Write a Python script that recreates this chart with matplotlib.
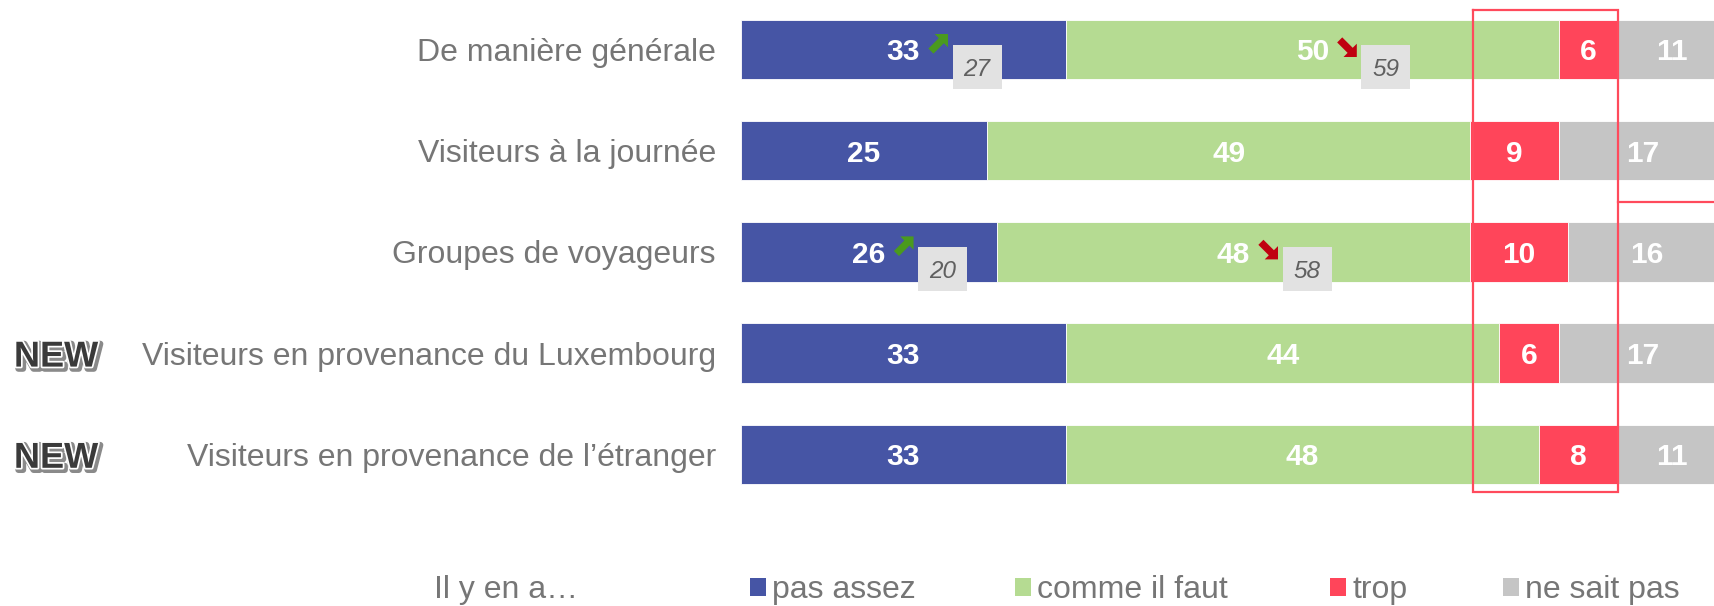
import matplotlib
matplotlib.use("Agg")
import matplotlib.pyplot as plt
import matplotlib.transforms as mtransforms
import matplotlib.patheffects as pe
from matplotlib.patches import Polygon, Rectangle, Patch
import numpy as np

plt.rcParams['font.family'] = ['Liberation Sans', 'DejaVu Sans']

# ---------------- data ----------------
categories = ["De manière générale", "Visiteurs à la journée", "Groupes de voyageurs",
              "Visiteurs en provenance du Luxembourg", "Visiteurs en provenance de l\u2019étranger"]
series_names = ["pas assez", "comme il faut", "trop", "ne sait pas"]
pas_assez = [33, 25, 26, 33, 33]
comme_il_faut = [50, 49, 48, 44, 48]
trop = [6, 9, 10, 6, 8]
ne_sait_pas = [11, 17, 16, 17, 11]
new_flags = [False, False, False, True, True]
# previous-wave comparisons: (row, series index, previous value, direction)
comparisons = [(0, 0, 27, "up"), (0, 1, 59, "down"), (2, 0, 20, "up"), (2, 1, 58, "down")]
legend_title = "Il y en a\u2026"

colors = ["#4655A5", "#B5DB92", "#FF455A", "#C5C5C5"]
label_gray = "#767676"

W, H = 1714, 606
fig = plt.figure(figsize=(W / 100, H / 100), dpi=100)
x0 = 741
ax = fig.add_axes([x0 / W, 0, 1 - x0 / W, 1])
px_per_unit = 9.85
ax.set_xlim(0, (W - x0) / px_per_unit)
row0, row_step = 49.5, 101.2
ax.set_ylim((H - row0) / row_step, -row0 / row_step)
ax.axis("off")

values = [pas_assez, comme_il_faut, trop, ne_sait_pas]
y = np.arange(len(categories))
left = np.zeros(len(categories))
centers = []
for vals, col in zip(values, colors):
    v = np.array(vals, dtype=float)
    ax.barh(y, v, left=left, height=0.585, color=col, edgecolor="white", linewidth=0.6)
    c = left + v / 2
    centers.append(c)
    for yi, ci, vi in zip(y, c, v):
        ax.text(ci, yi, f"{int(vi)}", ha="center", va="center_baseline", color="white",
                fontsize=21.5, fontweight="bold")
    left = left + v

# category labels
for yi, cat, nf in zip(y, categories, new_flags):
    ax.text(-25 / px_per_unit, yi, cat, ha="right", va="center_baseline", color=label_gray,
            fontsize=23, clip_on=False)
    if nf:
        ax.text(-(x0 - 56) / px_per_unit, yi, "NEW", ha="center", va="center_baseline",
                color="#3a3a3a", fontsize=26, fontweight="bold", clip_on=False,
                path_effects=[pe.Stroke(linewidth=4.5, foreground="#8a8a8a", offset=(1.5, -1.5)),
                              pe.Stroke(linewidth=2.5, foreground="white"),
                              pe.Normal()])

# arrows + previous values
arrow_ne = np.array([(-0.034, 0.234), (0.516, 0.784), (0.3, 1.0), (1.0, 1.0),
                     (1.0, 0.3), (0.784, 0.516), (0.234, -0.034)])
for row, si, prev, direction in comparisons:
    cx = centers[si][row]
    base = mtransforms.ScaledTranslation(cx, row, ax.transData)
    if direction == "up":
        shape = arrow_ne.copy()
        col = "#4A9A1E"
        t = mtransforms.Affine2D().scale(19).translate(25.5, -3.5) + base
    else:
        shape = arrow_ne.copy() * np.array([1, -1])
        col = "#C00010"
        t = mtransforms.Affine2D().scale(19).translate(25.5, 11.5) + base
    ax.add_patch(Polygon(shape, closed=True, facecolor=col, edgecolor="none",
                         transform=t, clip_on=False))
    tb = mtransforms.Affine2D().translate(49, -39.5) + base
    ax.add_patch(Rectangle((0, 0), 49, 44, facecolor="#E2E2E2", edgecolor="none",
                           transform=tb, clip_on=False))
    tt = mtransforms.Affine2D().translate(73.5, -17.5) + base
    ax.text(0, 0, f"{prev}", transform=tt, ha="center", va="center_baseline", fontsize=17.5,
            style="italic", color="#606060")

# red highlight frame
frame_col = "#FF4A5C"
fx0, fx1 = 74.3, 89.0
fy0, fy1 = -0.39, 4.37
ax.plot([fx0, fx1, fx1, fx0, fx0], [fy0, fy0, fy1, fy1, fy0], color=frame_col,
        lw=1.6, clip_on=False, solid_joinstyle="miter")
ax.plot([fx1, 120], [1.507, 1.507], color=frame_col, lw=1.6)

# legend
ly = 1 - 590 / H
fig.text(434 / W, ly, legend_title, ha="left", va="center", fontsize=23, color=label_gray)
leg_x = [750, 1015, 1330, 1503]
for name, col, lx in zip(series_names, colors, leg_x):
    lg = fig.legend(handles=[Patch(facecolor=col, edgecolor="none")], labels=[name],
                    loc="center left", bbox_to_anchor=(lx / W, ly), frameon=False,
                    fontsize=23, handlelength=0.5, handleheight=0.5, handletextpad=0.2,
                    borderpad=0, borderaxespad=0, labelcolor=label_gray)

fig.savefig("out.png", dpi=100)
